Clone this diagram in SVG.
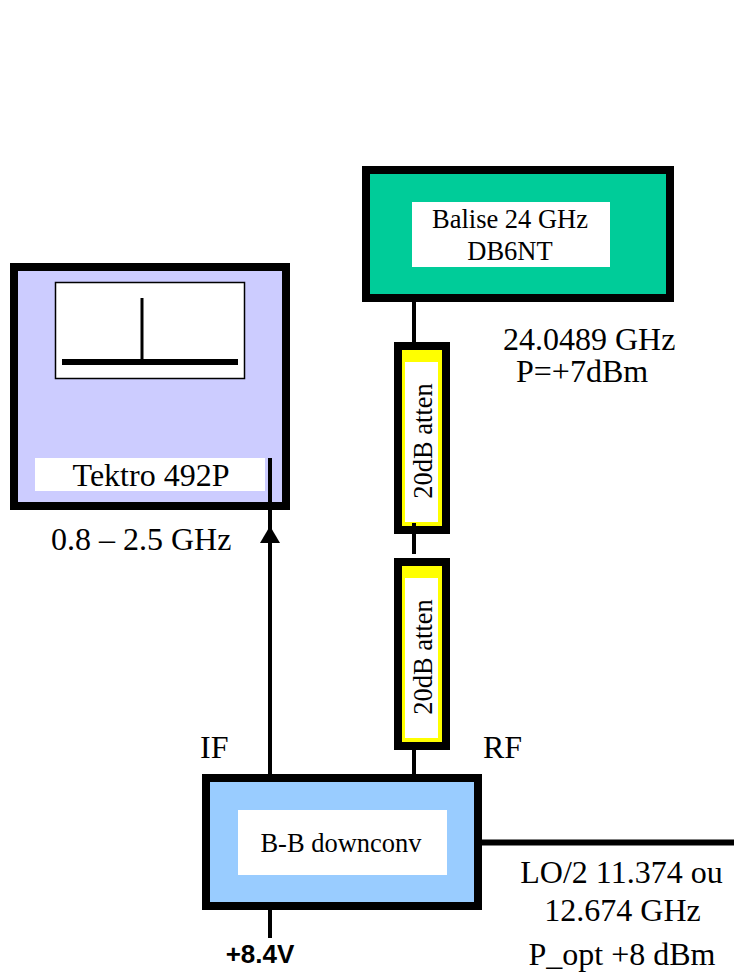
<svg xmlns="http://www.w3.org/2000/svg" width="734" height="974" viewBox="0 0 734 974">
<style>
.box{stroke:#000;stroke-width:8}
.w{fill:#fff}
.ln{stroke:#000;fill:none}
text{font-family:"Liberation Serif","Times New Roman",serif;fill:#000}
.s26{font-size:26.500px}
.s32{font-size:32px}
.m{text-anchor:middle}
</style>
<rect width="734" height="974" fill="#fff"/>
<g id="connectors">
<path class="ln" stroke-width="4" d="M414 302V343M414 523V554M414 750V776M270 458V775"/>
<path class="ln" stroke-width="4" d="M270 910V938"/>
<path class="ln" stroke-width="6" d="M482 842.500H734"/>
<polygon points="270,526 260,543 280,543" fill="#000"/>
</g>
<g id="tektro">
<rect class="box" x="14" y="267" width="272" height="239" fill="#CCCCFF"/>
<rect x="55.500" y="282.500" width="189" height="96" fill="#fff" stroke="#000" stroke-width="1.500"/>
<path class="ln" stroke-width="3" d="M142 298V360"/>
<path class="ln" stroke-width="6" d="M62 362H238"/>
<rect class="w" x="35" y="458" width="230" height="33"/>
<text class="s32 m" x="151" y="486">Tektro 492P</text>
<path class="ln" stroke-width="4" d="M270 458V510"/>
</g>
<text class="s32" x="51" y="550">0.8 – 2.5 GHz</text>
<g id="balise">
<rect class="box" x="366" y="170" width="304" height="128" fill="#00CC99"/>
<rect class="w" x="412" y="202" width="198" height="65"/>
<text class="s26 m" x="510" y="228">Balise 24 GHz</text>
<text class="s26 m" x="510" y="260">DB6NT</text>
</g>
<text class="s32" x="503" y="350">24.0489 GHz</text>
<text class="s32" x="516" y="382">P=+7dBm</text>
<g id="atten1">
<rect class="box" x="398" y="346" width="48" height="184" fill="#FFFF00"/>
<rect class="w" x="405" y="362" width="33" height="160"/>
<text class="s26 m" transform="translate(432 441) rotate(-90)">20dB atten</text>
<path class="ln" stroke-width="4" d="M414 523V530"/>
</g>
<g id="atten2">
<rect class="box" x="398" y="562" width="48" height="184" fill="#FFFF00"/>
<rect class="w" x="405" y="578" width="33" height="160"/>
<text class="s26 m" transform="translate(432 657) rotate(-90)">20dB atten</text>
</g>
<text class="s32" x="200" y="758">IF</text>
<text class="s32" x="483" y="758">RF</text>
<g id="downconv">
<rect class="box" x="206" y="778" width="272" height="128" fill="#99CCFF"/>
<rect class="w" x="238" y="810" width="209" height="65"/>
<text class="s26 m" x="341" y="852">B-B downconv</text>
</g>
<text class="s32 m" x="621.500" y="883">LO/2 11.374 ou</text>
<text class="s32 m" x="622.500" y="921">12.674 GHz</text>
<text class="s32 m" x="622" y="965">P_opt +8 dBm</text>
<text x="260" y="963" style="font-family:'Liberation Sans',Arial,sans-serif;font-weight:bold;font-size:26px" text-anchor="middle">+8.4V</text>
</svg>
